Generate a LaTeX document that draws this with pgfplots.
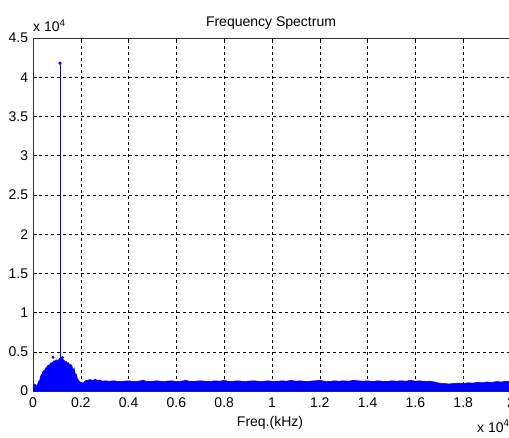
\documentclass[border=0pt]{standalone}
\usepackage{fontspec}
\setmainfont{Liberation Sans}
\usepackage{pgfplots}
\pgfplotsset{compat=1.18}
\begin{document}
\fontsize{14}{16}\selectfont
\begin{tikzpicture}
\begin{axis}[
  at={(33pt,46pt)}, anchor=south west,
  scale only axis, width=478pt, height=353pt,
  xmin=0, xmax=20000, ymin=0, ymax=45000,
  xtick={0,2000,4000,6000,8000,10000,12000,14000,16000,18000,20000},
  xticklabels={0,0.2,0.4,0.6,0.8,1,1.2,1.4,1.6,1.8,2},
  ytick={0,5000,10000,15000,20000,25000,30000,35000,40000,45000},
  yticklabels={0,0.5,1,1.5,2,2.5,3,3.5,4,4.5},
  scaled ticks=false,
  tick align=inside, major tick length=4pt,
  xtick pos=both, ytick pos=both,
  tick style={black, line width=0.5pt},
  axis line style={black!80, line width=0.6pt},
  grid=major,
  major grid style={black, dash pattern=on 3pt off 3pt, line width=0.5pt},
  tick label style={font=\fontsize{14}{16}\selectfont},
  xticklabel style={yshift=-2pt},
  /pgf/number format/assume math mode=true,
]
\addplot[blue, fill=blue, line width=0.6pt] coordinates {
(0,600) (50,900) (100,800) (150,700) (200,900) (250,1300) (280,1100) (300,1700) (350,2100)
(380,1900) (400,2400) (450,2600) (480,2400) (500,2800) (550,3000) (580,2800) (600,3200) (650,3300) (680,3100) (700,3400)
(750,3600) (780,3300) (800,3700) (850,3600) (880,3900) (900,3700) (950,3900) (980,3700) (1000,4000) (1050,3800)
(1100,4150) (1150,4000) (1180,4200) (1200,3900) (1250,4100) (1280,3800) (1300,3900) (1350,3700)
(1400,3750) (1450,3500) (1480,3600) (1500,3400) (1550,3450) (1600,3200) (1620,3300) (1650,2900)
(1700,2700) (1720,2900) (1750,2400) (1800,1900) (1820,2100) (1850,1600) (1900,1400) (1950,1200)
(2000,1100) (2100,1000) (2200,1300) (2300,1400) (2400,1450) (2500,1350) (2600,1500)
(2700,1350) (2800,1400) (2900,1250) (3000,1300) (3200,1250) (3400,1300) (3600,1200)
(3800,1250) (4000,1300) (4200,1200) (4400,1250) (4600,1350) (4800,1200)
(5000,1250) (5200,1300) (5400,1200) (5600,1250) (5800,1300) (6000,1200)
(6200,1250) (6400,1350) (6600,1200) (6800,1250) (7000,1300) (7200,1250)
(7400,1200) (7600,1300) (7800,1250) (8000,1350) (8200,1200) (8400,1250)
(8600,1300) (8800,1200) (9000,1250) (9200,1300) (9400,1250) (9600,1200)
(9800,1300) (10000,1250) (10200,1200) (10400,1300) (10600,1250) (10800,1350)
(11000,1250) (11200,1300) (11400,1200) (11600,1250) (11800,1300) (12000,1350)
(12200,1250) (12400,1200) (12600,1300) (12800,1250) (13000,1300) (13200,1250)
(13400,1350) (13600,1300) (13800,1250) (14000,1300) (14200,1200) (14400,1300)
(14600,1250) (14800,1200) (15000,1300) (15200,1250) (15400,1300) (15600,1250)
(15800,1350) (16000,1250) (16200,1300) (16400,1200) (16600,1250) (16800,1150)
(17000,1000) (17200,950) (17400,900) (17600,950) (17800,1000) (18000,950)
(18200,1050) (18400,1000) (18600,1100) (18800,1050) (19000,1150) (19200,1100)
(19400,1200) (19600,1150) (19800,1250) (20000,1200)
} \closedcycle;
\addplot[blue, line width=0.7pt, mark=*, mark size=1.3pt, mark indices={2}]
  coordinates {(1130,0) (1130,41800)};
\addplot[blue, only marks, mark=*, mark size=1.3pt] coordinates {(840,4300) (1230,4250)};
\end{axis}
\node[anchor=base] at (271pt,410pt) {Frequency Spectrum};
\node[anchor=base] at (270pt,11pt) {Freq.(kHz)};
\node[anchor=base west, inner sep=0pt] at (33pt,405pt) {x 10\textsuperscript{4}};
\node[anchor=base west, inner sep=0pt] at (477pt,5pt) {x 10\textsuperscript{4}};
\pgfresetboundingbox
\path[use as bounding box] (0,0) rectangle (509pt,437pt);
\end{tikzpicture}
\end{document}
